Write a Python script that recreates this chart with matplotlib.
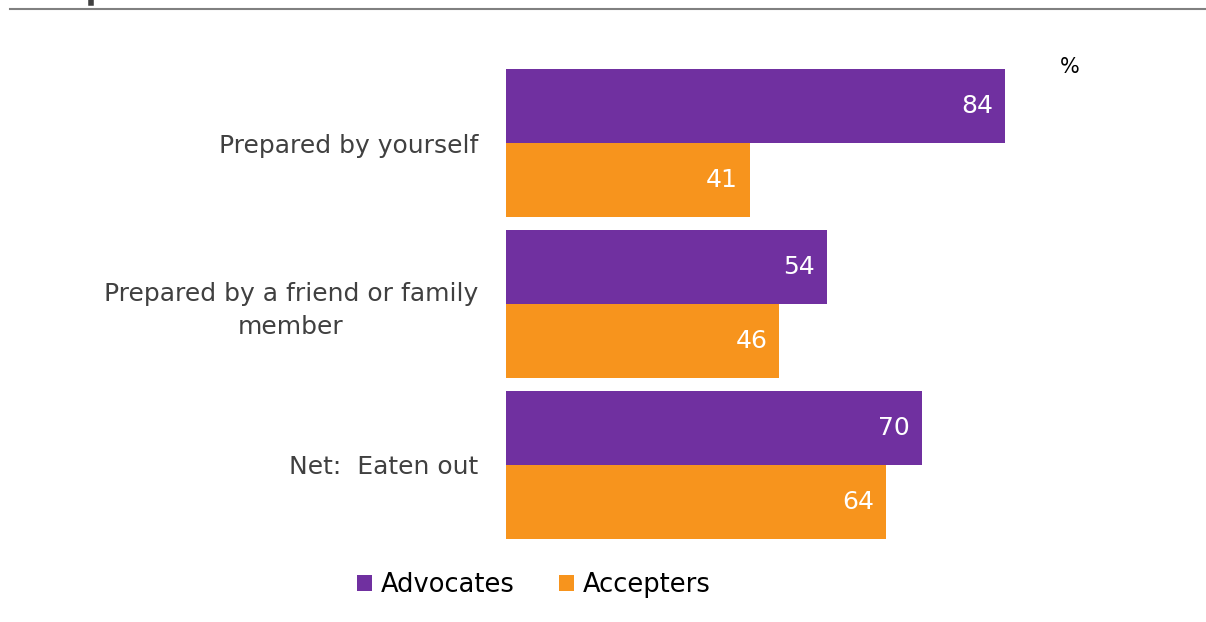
import matplotlib.pyplot as plt
import numpy as np

plt.rcParams['font.family'] = ['DejaVu Sans']

# survey shares (%)
categories = ['Prepared by yourself', 'Prepared by a friend or family\nmember', 'Net:  Eaten out']
advocates = [84, 54, 70]
accepters = [41, 46, 64]

purple = '#7030A0'
orange = '#F7941D'

fig = plt.figure(figsize=(12.06, 6.22), dpi=100)
W, H = 1206, 622
ax = fig.add_axes([506 / W, 1 - 545.5 / H, 594 / W, 483 / H])

y = np.arange(len(categories))
h = 0.457
b1 = ax.barh(y - h / 2, advocates, height=h, color=purple, label='Advocates')
b2 = ax.barh(y + h / 2, accepters, height=h, color=orange, label='Accepters')

for bars, vals in ((b1, advocates), (b2, accepters)):
    for bar, v in zip(bars, vals):
        ax.text(v - 2, bar.get_y() + bar.get_height() / 2, str(v),
                ha='right', va='center', color='white', fontsize=18)

ax.set_xlim(0, 100)
ax.set_ylim(2.5, -0.5)
ax.set_yticks(y)
ax.set_yticklabels(categories, fontsize=18, color='#404040', ha='right',
                   multialignment='center', linespacing=1.45)
ax.tick_params(axis='y', length=0, pad=20)
ax.set_xticks([])
for s in ax.spines.values():
    s.set_visible(False)

# percent marker and the rule under the heading
fig.text(1070 / W, 1 - 67 / H, '%', fontsize=15, ha='center', va='center', color='black')
fig.add_artist(plt.Line2D([10 / W, 1], [1 - 9 / H, 1 - 9 / H], color='#808080', lw=1.5))
fig.add_artist(plt.Line2D([91 / W, 91 / W], [1, 1 - 3 / H], color='#404040', lw=4))

fig.legend(handles=[b1, b2], loc='center', bbox_to_anchor=(534 / W, 1 - 585 / H),
           ncol=2, frameon=False, fontsize=18.5, handlelength=0.6, handleheight=0.6,
           handletextpad=0.35, columnspacing=1.7)

plt.savefig('out.png', dpi=100)
